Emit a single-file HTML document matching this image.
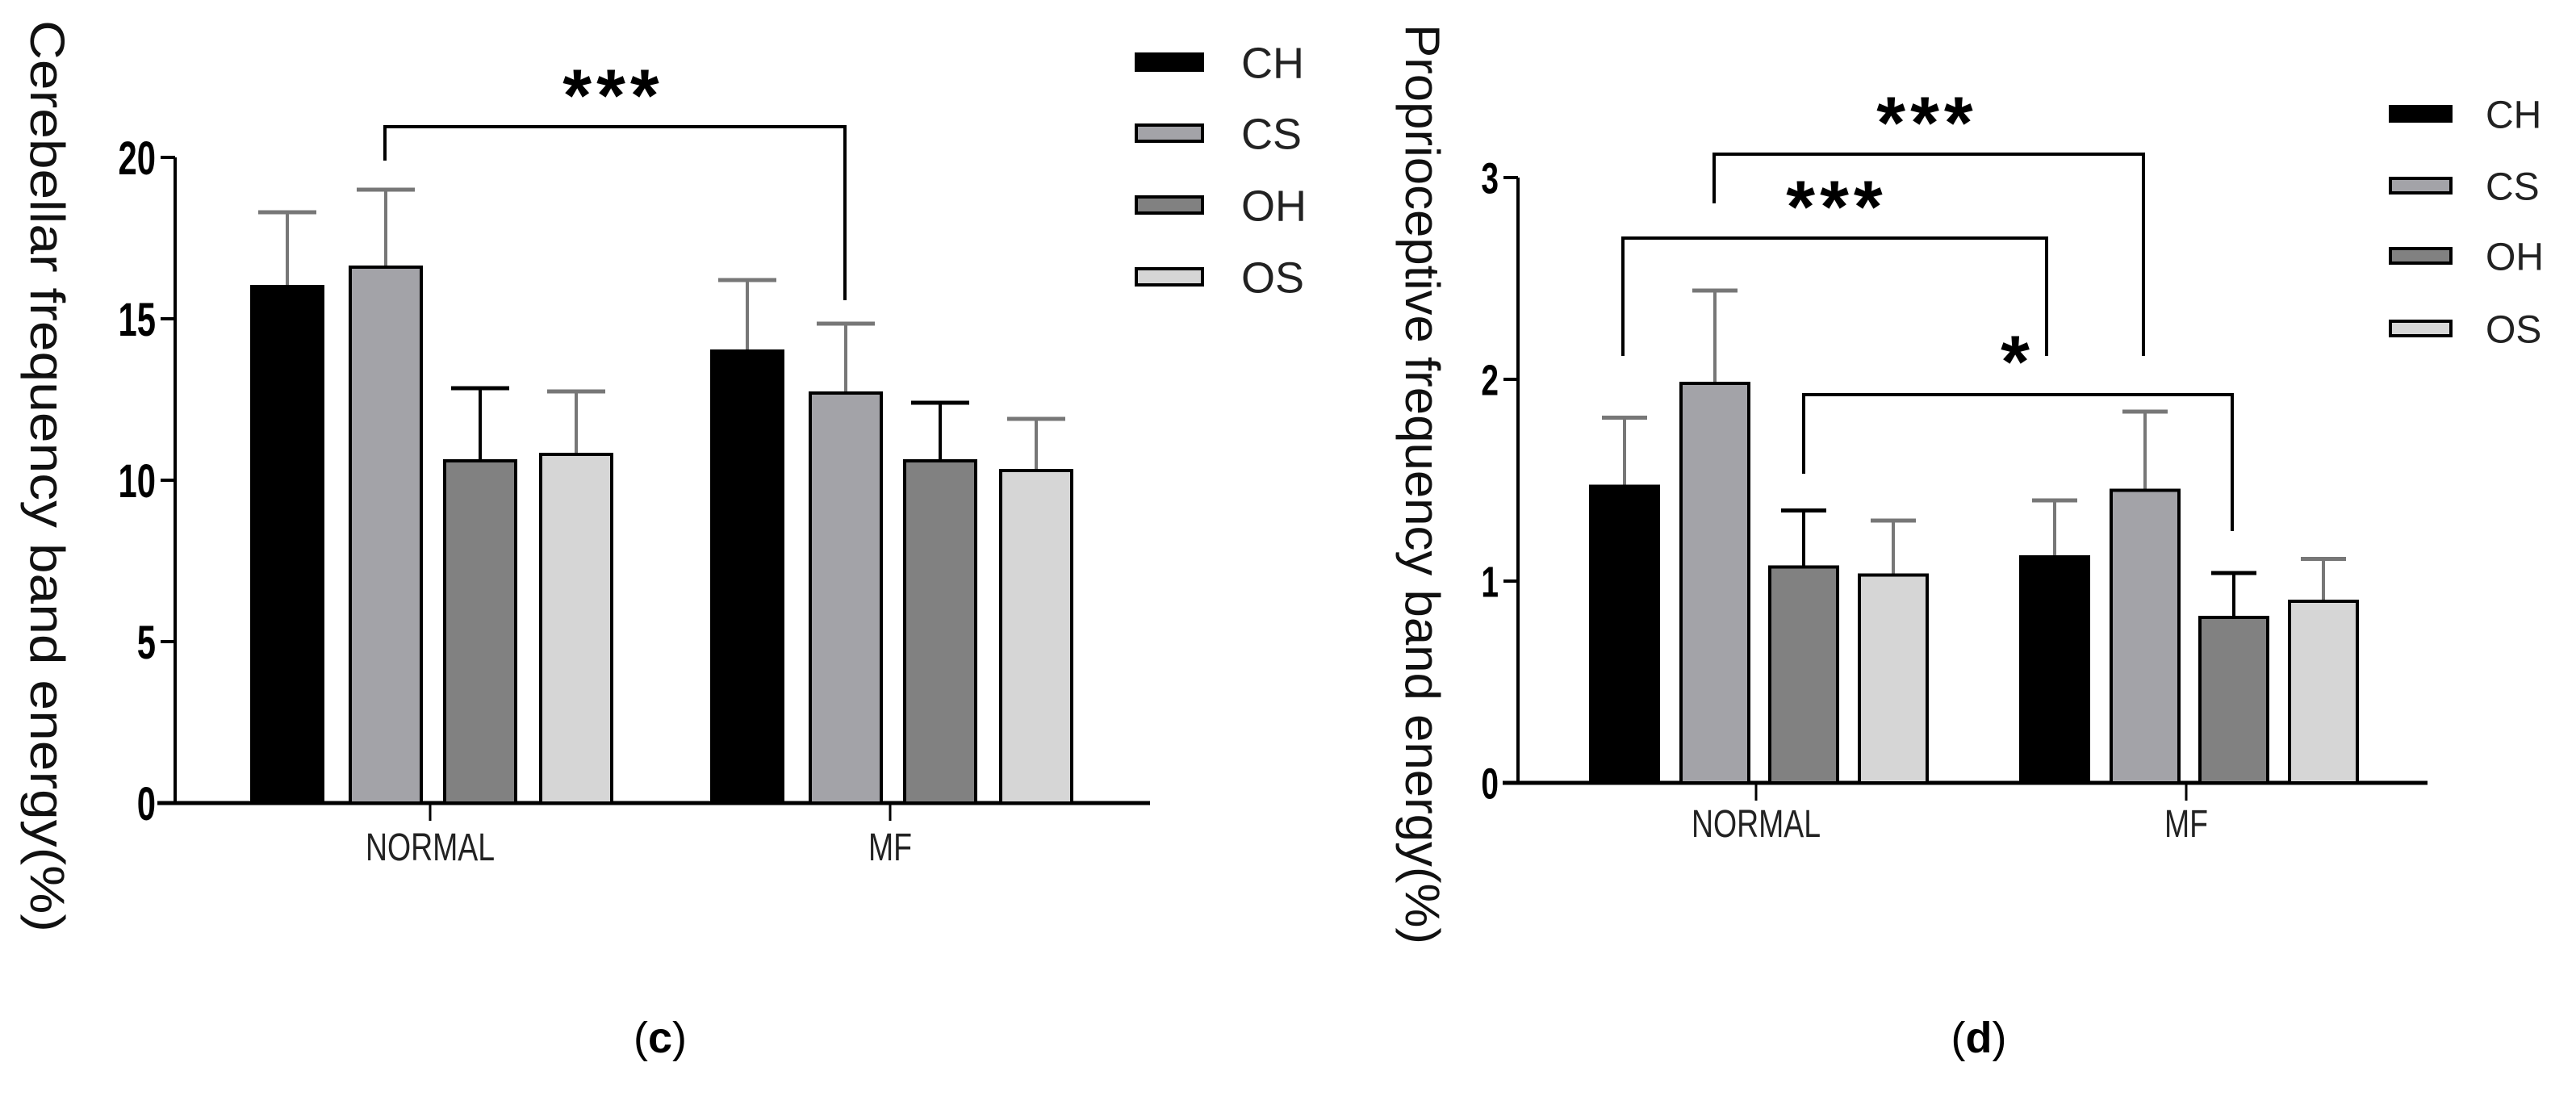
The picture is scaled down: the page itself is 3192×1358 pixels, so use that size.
<!DOCTYPE html>
<html><head><meta charset="utf-8"><style>
html,body{margin:0;padding:0;background:#fff;}
svg{display:block;}
text{font-family:"Liberation Sans",sans-serif;}
</style></head><body>
<svg id="fig" width="3192" height="1358" viewBox="0 0 3192 1358" xmlns="http://www.w3.org/2000/svg">
<g id="chartC"></g>
<g id="chartD"></g>
</svg>
<script>
const categories = ["NORMAL", "MF"];
const seriesNames = ["CH", "CS", "OH", "OS"];
const seriesColors = ["#000000", "#a3a3a8", "#818181", "#d6d6d6"];
const errColors = ["#777", "#777", "#000", "#777"];
const cMeans = [[16.0, 16.6, 10.6, 10.8], [14.0, 12.7, 10.6, 10.3]];
const cErrTops = [[18.3, 19.0, 12.85, 12.75], [16.2, 14.85, 12.4, 11.9]];
const cTicks = [0, 5, 10, 15, 20];
const dMeans = [[1.47, 1.98, 1.07, 1.03], [1.12, 1.45, 0.82, 0.90]];
const dErrTops = [[1.81, 2.44, 1.35, 1.30], [1.40, 1.84, 1.04, 1.11]];
const dTicks = [0, 1, 2, 3];

const NS = "http://www.w3.org/2000/svg";
function mk(parent, tag, attrs, txt) {
  const e = document.createElementNS(NS, tag);
  for (const k in attrs) e.setAttribute(k, attrs[k]);
  if (txt !== undefined) e.textContent = txt;
  parent.appendChild(e);
  return e;
}

function drawChart(g, cfg) {
  const y = v => cfg.y0 - v * cfg.unit;
  const ax = mk(g, "line", {x1: cfg.axisX, y1: y(cfg.ticks[cfg.ticks.length-1]), x2: cfg.axisX, y2: cfg.y0+2, stroke: "#000", "stroke-width": 4});
  
  
  const xa = mk(g, "line", {x1: cfg.xAxisStart, y1: cfg.y0, x2: cfg.xAxisEnd, y2: cfg.y0, stroke: "#000", "stroke-width": 5});
  
  
  cfg.ticks.forEach(t => {
    const tk = mk(g, "line", {x1: cfg.axisX - 18, y1: y(t), x2: cfg.axisX, y2: y(t), stroke: "#000", "stroke-width": 4});
    
    
    const tl = mk(g, "text", {x: 0, y: 0, "font-size": cfg.tickFont, "font-weight": "bold", "text-anchor": "end",
      transform: `translate(${cfg.axisX - 24},${y(t) + cfg.tickFont*0.36}) scale(0.72,1)`}, String(t));
    
    
  });
  categories.forEach((c, ci) => {
    const gx = cfg.groupX[ci];
    const ct = mk(g, "line", {x1: gx, y1: cfg.y0, x2: gx, y2: cfg.y0 + 22, stroke: "#000", "stroke-width": 3});
    
    
    const cl = mk(g, "text", {x: 0, y: 0, "font-size": cfg.catFont, "text-anchor": "middle", fill: "#222",
      transform: `translate(${gx},${cfg.catY}) scale(0.78,1)`}, c);
    
    
    seriesNames.forEach((s, si) => {
      const x0 = gx + cfg.barOffsets[si];
      const v = cfg.means[ci][si], e = cfg.errTops[ci][si];
      const cx = x0 + cfg.barW / 2;
      const st = mk(g, "line", {x1: cx, y1: y(v), x2: cx, y2: y(e), stroke: errColors[si], "stroke-width": 4});
      
      
      const cp = mk(g, "line", {x1: cx - cfg.capW, y1: y(e), x2: cx + cfg.capW, y2: y(e), stroke: errColors[si], "stroke-width": 5});
      
      
      const r = mk(g, "rect", {x: x0, y: y(v), width: cfg.barW, height: y(0) - y(v), fill: seriesColors[si], stroke: "#000", "stroke-width": 4});
      
      
    });
  });
  seriesNames.forEach((s, si) => {
    const ly = cfg.legY[si];
    const lr = mk(g, "rect", {x: cfg.legX, y: ly, width: cfg.legW, height: cfg.legH, fill: seriesColors[si], stroke: "#000", "stroke-width": 4});
    
    
    const lt = mk(g, "text", {x: cfg.legTextX, y: ly + cfg.legH/2 + cfg.legFont*0.36, "font-size": cfg.legFont, fill: "#222"}, s);
    
    
  });
  const yt = mk(g, "text", {x: 0, y: 0, "font-size": cfg.titleFont, "text-anchor": "middle", fill: "#111",
    transform: `translate(${cfg.titleX},${cfg.titleY}) rotate(90)`, textLength: cfg.titleLen, lengthAdjust: "spacingAndGlyphs"}, cfg.title);
  
  
  cfg.brackets.forEach(b => {
    const p = mk(g, "polyline", {points: `${b.x1},${b.l1} ${b.x1},${b.top} ${b.x2},${b.top} ${b.x2},${b.l2}`, fill: "none", stroke: "#000", "stroke-width": 4});
    
    
    const st = mk(g, "text", {x: b.sx, y: b.sy, "font-size": 92, "font-weight": "bold", "text-anchor": "middle", "letter-spacing": 6}, b.label);
    
    
  });
  const pl = mk(g, "text", {x: cfg.panelX, y: 1304, "font-size": 54, "text-anchor": "middle", "font-family": "Liberation Serif, serif"}, "");
  
  
  mk(pl, "tspan", {}, "(");
  mk(pl, "tspan", {"font-weight": "bold"}, cfg.panel);
  mk(pl, "tspan", {}, ")");
}

drawChart(document.getElementById("chartC"), {
  y0: 995, unit: 40, axisX: 217, xAxisStart: 195, xAxisEnd: 1425, ticks: cTicks, tickFont: 58,
  groupX: [533, 1103], barOffsets: [-221, -99, 18, 137], barW: 88, capW: 36,
  means: cMeans, errTops: cErrTops, catFont: 48, catY: 1066,
  legX: 1408, legW: 82, legH: 20, legY: [67, 155, 244, 333], legTextX: 1538, legFont: 54,
  title: "Cerebellar frequency band energy(%)", titleX: 38, titleY: 590, titleFont: 60, titleLen: 1130,
  brackets: [{x1: 477, x2: 1047, top: 157, l1: 199, l2: 372, sx: 760, sy: 150, label: "***"}],
  panel: "c", panelX: 818
});
drawChart(document.getElementById("chartD"), {
  y0: 970, unit: 250, axisX: 1881, xAxisStart: 1862, xAxisEnd: 3008, ticks: dTicks, tickFont: 54,
  groupX: [2176, 2709], barOffsets: [-205, -93, 17, 128], barW: 84, capW: 28,
  means: dMeans, errTops: dErrTops, catFont: 48, catY: 1037,
  legX: 2962, legW: 75, legH: 18, legY: [132, 221, 308, 398], legTextX: 3080, legFont: 48,
  title: "Proprioceptive frequency band energy(%)", titleX: 1742, titleY: 600, titleFont: 60, titleLen: 1140,
  brackets: [
    {x1: 2124, x2: 2656, top: 191, l1: 252, l2: 441, sx: 2388, sy: 184, label: "***"},
    {x1: 2011, x2: 2536, top: 295, l1: 441, l2: 441, sx: 2276, sy: 288, label: "***"},
    {x1: 2235, x2: 2766, top: 489, l1: 587, l2: 658, sx: 2500, sy: 480, label: "*"}
  ],
  panel: "d", panelX: 2452
});
</script>
</body></html>
